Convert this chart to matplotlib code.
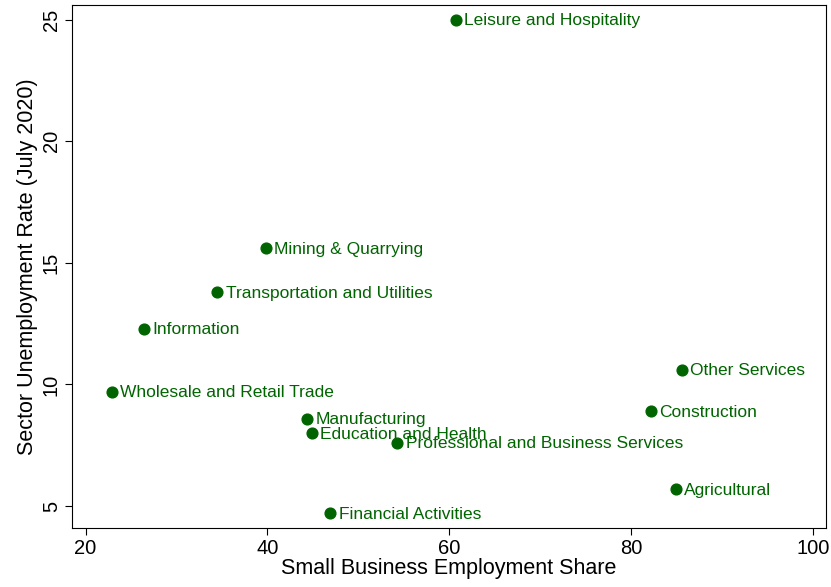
import matplotlib.pyplot as plt

plt.rcParams['font.family'] = ['Liberation Sans', 'DejaVu Sans']

sectors = ['Leisure and Hospitality', 'Mining & Quarrying', 'Transportation and Utilities',
           'Information', 'Wholesale and Retail Trade', 'Manufacturing', 'Education and Health',
           'Professional and Business Services', 'Financial Activities', 'Other Services',
           'Construction', 'Agricultural']
small_biz_share = [60.7, 39.8, 34.5, 26.4, 22.9, 44.4, 44.9, 54.3, 46.9, 85.6, 82.2, 84.9]
unemp_rate = [25.0, 15.6, 13.8, 12.3, 9.7, 8.6, 8.0, 7.6, 4.7, 10.6, 8.9, 5.7]

green = '#006400'

fig = plt.figure(figsize=(8.31, 5.87), dpi=100)
ax = fig.add_axes([0.0866, 0.1005, 0.907, 0.891])

ax.scatter(small_biz_share, unemp_rate, s=60, color=green, zorder=3)
for name, x, y in zip(sectors, small_biz_share, unemp_rate):
    ax.annotate(name, (x, y), xytext=(6, -0.8), textcoords='offset points',
                va='center', ha='left', color=green, fontsize=12.5)

ax.set_xlim(18.5, 101.4)
ax.set_ylim(4.1, 25.6)
ax.set_xticks([20, 40, 60, 80, 100])
ax.set_yticks([5, 10, 15, 20, 25])
ax.tick_params(direction='out', length=5, labelsize=14.5, pad=3)
for lab in ax.get_yticklabels():
    lab.set_rotation(90)
    lab.set_va('center')
ax.set_xlabel('Small Business Employment Share', fontsize=15.5, labelpad=0)
ax.set_ylabel('Sector Unemployment Rate (July 2020)', fontsize=15.5, labelpad=3)

fig.savefig('out.png', dpi=100)
